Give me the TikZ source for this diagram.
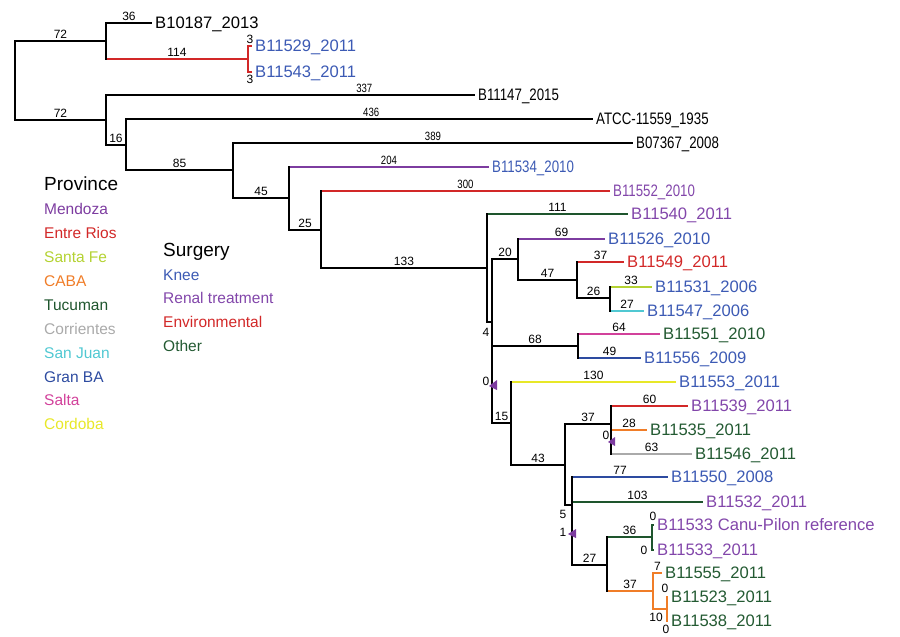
\documentclass[tikz,border=0pt]{standalone}
\usepackage{graphicx}
\usepackage{fontspec}
\setmainfont{Liberation Sans}
\newcommand{\narrowtxt}[1]{\scalebox{0.8}[1]{#1}}
\definecolor{cMendoza}{RGB}{125,60,160}
\definecolor{cEntre}{RGB}{210,40,40}
\definecolor{cSantaFe}{RGB}{180,210,50}
\definecolor{cCABA}{RGB}{240,125,40}
\definecolor{cTucuman}{RGB}{30,85,45}
\definecolor{cCorr}{RGB}{170,170,170}
\definecolor{cSanJuan}{RGB}{80,200,210}
\definecolor{cGranBA}{RGB}{45,75,160}
\definecolor{cSalta}{RGB}{210,65,155}
\definecolor{cCordoba}{RGB}{232,232,40}
\definecolor{tKnee}{RGB}{60,90,180}
\definecolor{tRenal}{RGB}{130,70,170}
\definecolor{tEnv}{RGB}{210,40,40}
\definecolor{tOther}{RGB}{35,90,50}
\tikzset{
  leaf/.style={anchor=west,inner xsep=3pt,inner ysep=0pt,font=\fontsize{16.6}{16.6}\selectfont,text height=11.9pt,text depth=0pt},
  blen/.style={text=black,inner sep=1.5pt,font=\fontsize{12}{12}\selectfont,text height=8.6pt,text depth=0pt},
  br/.style={line width=2.5pt},
  vbr/.style={line width=2.5pt,line cap=rect},
  zeromark/.style={fill=cMendoza},
  lghead/.style={anchor=west,inner sep=0pt,font=\fontsize{19}{19}\selectfont,text height=13.6pt,text depth=0pt},
  lgitem/.style={anchor=west,inner sep=0pt,font=\fontsize{15.5}{15.5}\selectfont,text height=11.1pt,text depth=0pt}
}
\begin{document}
\begin{tikzpicture}[x=1pt,y=-1pt]
\useasboundingbox (0,0) rectangle (900,637);
% internal nodes
\coordinate (root) at (15,80);
\coordinate (nA) at (106,41);
\coordinate (nC) at (248,59);
\coordinate (nB) at (106,120);
\coordinate (nD) at (126,145);
\coordinate (nE) at (233,170);
\coordinate (nF) at (289,198);
\coordinate (nG) at (321,230);
\coordinate (nH) at (487,268);
\coordinate (nI) at (492,322);
\coordinate (nJ) at (518,259);
\coordinate (nP) at (577,280);
\coordinate (nQ) at (610,298);
\coordinate (nK) at (578,346);
\coordinate (nM) at (511,423);
\coordinate (nS) at (565,465);
\coordinate (nT) at (611,424);
\coordinate (nU) at (572,505);
\coordinate (nV) at (607,565);
\coordinate (nW) at (652,537);
\coordinate (nX) at (653,591);
\coordinate (nY) at (667,609);
% leaves
\node[name=b10187,leaf] at (152,23){B10187\_2013};
\node[name=b11529,leaf,text=tKnee] at (252,46){B11529\_2011};
\node[name=b11543,leaf,text=tKnee] at (252,72){B11543\_2011};
\node[name=b11147,leaf] at (475,95){\narrowtxt{B11147\_2015}};
\node[name=atcc,leaf] at (593,119){\narrowtxt{ATCC-11559\_1935}};
\node[name=b07367,leaf] at (633,143){\narrowtxt{B07367\_2008}};
\node[name=b11534,leaf,text=tKnee] at (489,167){\narrowtxt{B11534\_2010}};
\node[name=b11552,leaf,text=tRenal] at (610,191){\narrowtxt{B11552\_2010}};
\node[name=b11540,leaf,text=tRenal] at (628,214){B11540\_2011};
\node[name=b11526,leaf,text=tKnee] at (605,239){B11526\_2010};
\node[name=b11549,leaf,text=tEnv] at (624,262){B11549\_2011};
\node[name=b11531,leaf,text=tKnee] at (652,287){B11531\_2006};
\node[name=b11547,leaf,text=tKnee] at (644,311){B11547\_2006};
\node[name=b11551,leaf,text=tOther] at (660,334){B11551\_2010};
\node[name=b11556,leaf,text=tKnee] at (641,358){B11556\_2009};
\node[name=b11553,leaf,text=tKnee] at (676,382){B11553\_2011};
\node[name=b11539,leaf,text=tRenal] at (688,406){B11539\_2011};
\node[name=b11535,leaf,text=tOther] at (647,430){B11535\_2011};
\node[name=b11546,leaf,text=tOther] at (692,454){B11546\_2011};
\node[name=b11550,leaf,text=tKnee] at (668,477){B11550\_2008};
\node[name=b11532,leaf,text=tRenal] at (703,502){B11532\_2011};
\node[name=b11533ref,leaf,text=tRenal] at (654,525){B11533 Canu-Pilon reference};
\node[name=b11533,leaf,text=tRenal] at (654,550){B11533\_2011};
\node[name=b11555,leaf,text=tOther] at (662,573){B11555\_2011};
\node[name=b11523,leaf,text=tOther] at (668,597){B11523\_2011};
\node[name=b11538,leaf,text=tOther] at (668,621){B11538\_2011};
% branches
\draw[br] (root |- nA) -- (nA) node[blen,midway,above]{72};
\draw[br] (root |- nB) -- (nB) node[blen,midway,above]{72};
\draw[br] (nA |- b10187.west) -- (b10187.west) node[blen,midway,above]{36};
\draw[br,cEntre] (nA |- nC) -- (nC) node[blen,midway,above]{114};
\draw[br,cEntre] (nC |- b11529.west) -- (b11529.west) node[blen,midway,above]{3};
\draw[br,cEntre] (nC |- b11543.west) -- (b11543.west) node[blen,midway,below]{3};
\draw[br] (nB |- b11147.west) -- (b11147.west) node[blen,pos=0.7,above]{\narrowtxt{337}};
\draw[br] (nB |- nD) -- (nD) node[blen,midway,above]{16};
\draw[br] (nD |- atcc.west) -- (atcc.west) node[blen,pos=0.525,above]{\narrowtxt{436}};
\draw[br] (nD |- nE) -- (nE) node[blen,midway,above]{85};
\draw[br] (nE |- b07367.west) -- (b07367.west) node[blen,midway,above]{\narrowtxt{389}};
\draw[br] (nE |- nF) -- (nF) node[blen,midway,above]{45};
\draw[br,cMendoza] (nF |- b11534.west) -- (b11534.west) node[blen,midway,above]{\narrowtxt{204}};
\draw[br] (nF |- nG) -- (nG) node[blen,midway,above]{25};
\draw[br,cEntre] (nG |- b11552.west) -- (b11552.west) node[blen,midway,above]{\narrowtxt{300}};
\draw[br] (nG |- nH) -- (nH) node[blen,midway,above]{133};
\draw[br,cTucuman] (nH |- b11540.west) -- (b11540.west) node[blen,midway,above]{111};
\draw[br] (nH |- nI) -- (nI);
\draw[br] (nI |- nJ) -- (nJ) node[blen,midway,above]{20};
\draw[br,cMendoza] (nJ |- b11526.west) -- (b11526.west) node[blen,midway,above]{69};
\draw[br] (nJ |- nP) -- (nP) node[blen,midway,above]{47};
\draw[br,cEntre] (nP |- b11549.west) -- (b11549.west) node[blen,midway,above]{37};
\draw[br] (nP |- nQ) -- (nQ) node[blen,midway,above]{26};
\draw[br,cSantaFe] (nQ |- b11531.west) -- (b11531.west) node[blen,midway,above]{33};
\draw[br,cSanJuan] (nQ |- b11547.west) -- (b11547.west) node[blen,midway,above]{27};
\draw[br] (nI |- nK) -- (nK) node[blen,midway,above]{68};
\draw[br,cSalta] (nK |- b11551.west) -- (b11551.west) node[blen,midway,above]{64};
\draw[br,cGranBA] (nK |- b11556.west) -- (b11556.west) node[blen,midway,above]{49};
\draw[br] (nI |- nM) -- (nM) node[blen,midway,above]{15};
\draw[br,cCordoba] (nM |- b11553.west) -- (b11553.west) node[blen,midway,above]{130};
\draw[br] (nM |- nS) -- (nS) node[blen,midway,above]{43};
\draw[br] (nS |- nT) -- (nT) node[blen,midway,above]{37};
\draw[br,cEntre] (nT |- b11539.west) -- (b11539.west) node[blen,midway,above]{60};
\draw[br,cCABA] (nT |- b11535.west) -- (b11535.west) node[blen,midway,above]{28};
\draw[br,cCorr] (nT |- b11546.west) -- (b11546.west) node[blen,midway,above]{63};
\draw[br] (nS |- nU) -- (nU);
\draw[br,cGranBA] (nU |- b11550.west) -- (b11550.west) node[blen,midway,above]{77};
\draw[br,cTucuman] (nU |- b11532.west) -- (b11532.west) node[blen,midway,above]{103};
\draw[br] (nU |- nV) -- (nV) node[blen,midway,above]{27};
\draw[br,cTucuman] (nV |- nW) -- (nW) node[blen,midway,above]{36};
\draw[br,cTucuman] (nW |- b11533ref.west) -- (b11533ref.west);
\draw[br,cTucuman] (nW |- b11533.west) -- (b11533.west);
\draw[br,cCABA] (nV |- nX) -- (nX) node[blen,midway,above]{37};
\draw[br,cCABA] (nX |- b11555.west) -- (b11555.west) node[blen,midway,above]{7};
\draw[br,cCABA] (nX |- nY) -- (nY);
\draw[br,cCABA] (nY |- b11523.west) -- (b11523.west);
\draw[br,cCABA] (nY |- b11538.west) -- (b11538.west);
% verticals
\draw[vbr] (root |- nA) -- (root |- nB);
\draw[vbr] (nA |- b10187.west) -- (nA |- nC);
\draw[vbr,cEntre] (nC |- b11529.west) -- (nC |- b11543.west);
\draw[vbr] (nB |- b11147.west) -- (nB |- nD);
\draw[vbr] (nD |- atcc.west) -- (nD |- nE);
\draw[vbr] (nE |- b07367.west) -- (nE |- nF);
\draw[vbr] (nF |- b11534.west) -- (nF |- nG);
\draw[vbr] (nG |- b11552.west) -- (nG |- nH);
\draw[vbr] (nH |- b11540.west) -- (nH |- nI);
\draw[vbr] (nI |- nJ) -- (nI |- nM);
\draw[vbr] (nJ |- b11526.west) -- (nJ |- nP);
\draw[vbr] (nP |- b11549.west) -- (nP |- nQ);
\draw[vbr] (nQ |- b11531.west) -- (nQ |- b11547.west);
\draw[vbr] (nK |- b11551.west) -- (nK |- b11556.west);
\draw[vbr] (nM |- b11553.west) -- (nM |- nS);
\draw[vbr] (nS |- nT) -- (nS |- nU);
\draw[vbr] (nT |- b11539.west) -- (nT |- b11546.west);
\draw[vbr] (nU |- b11550.west) -- (nU |- nV);
\draw[vbr] (nV |- nW) -- (nV |- nX);
\draw[vbr,cTucuman] (nW |- b11533ref.west) -- (nW |- b11533.west);
\draw[vbr,cCABA] (nX |- b11555.west) -- (nX |- nY);
\draw[vbr,cCABA] (nY |- b11523.west) -- (nY |- b11538.west);
% loose branch labels
\node[name=lab4,blen] at (486,332){4};
\node[name=lab5,blen] at (563,514){5};
\node[name=lab10,blen] at (656,617){10};
\node[name=labW1,blen] at (653,516){0};
\node[name=labW2,blen] at (644,550){0};
\node[name=labY1,blen] at (665,588){0};
\node[name=labY2,blen] at (666,629){0};
% zero-length markers
\node[name=zI,blen] at (486,381){0};
\fill[zeromark] (489,386) -- (497,380) -- (497,390) -- cycle;
\node[name=zT,blen] at (606,435){0};
\fill[zeromark] (608,442) -- (615,437) -- (615,446) -- cycle;
\node[name=zU,blen] at (563,532){1};
\fill[zeromark] (568,534) -- (576,529) -- (576,538) -- cycle;
% legend
\node[name=lgProvince,lghead] at (44,184){Province};
\node[name=lgMendoza,lgitem,text=cMendoza] at (44,209){Mendoza};
\node[name=lgEntre,lgitem,text=cEntre] at (44,233){Entre Rios};
\node[name=lgSantaFe,lgitem,text=cSantaFe] at (44,257){Santa Fe};
\node[name=lgCABA,lgitem,text=cCABA] at (44,281){CABA};
\node[name=lgTucuman,lgitem,text=cTucuman] at (44,305){Tucuman};
\node[name=lgCorr,lgitem,text=cCorr] at (44,329){Corrientes};
\node[name=lgSanJuan,lgitem,text=cSanJuan] at (44,353){San Juan};
\node[name=lgGranBA,lgitem,text=cGranBA] at (44,377){Gran BA};
\node[name=lgSalta,lgitem,text=cSalta] at (44,400){Salta};
\node[name=lgCordoba,lgitem,text=cCordoba] at (44,424){Cordoba};
\node[name=lgSurgery,lghead] at (163,250){Surgery};
\node[name=lgKnee,lgitem,text=tKnee] at (163,275){Knee};
\node[name=lgRenal,lgitem,text=tRenal] at (163,298){Renal treatment};
\node[name=lgEnv,lgitem,text=tEnv] at (163,322){Environmental};
\node[name=lgOther,lgitem,text=tOther] at (163,346){Other};
\end{tikzpicture}
\end{document}
